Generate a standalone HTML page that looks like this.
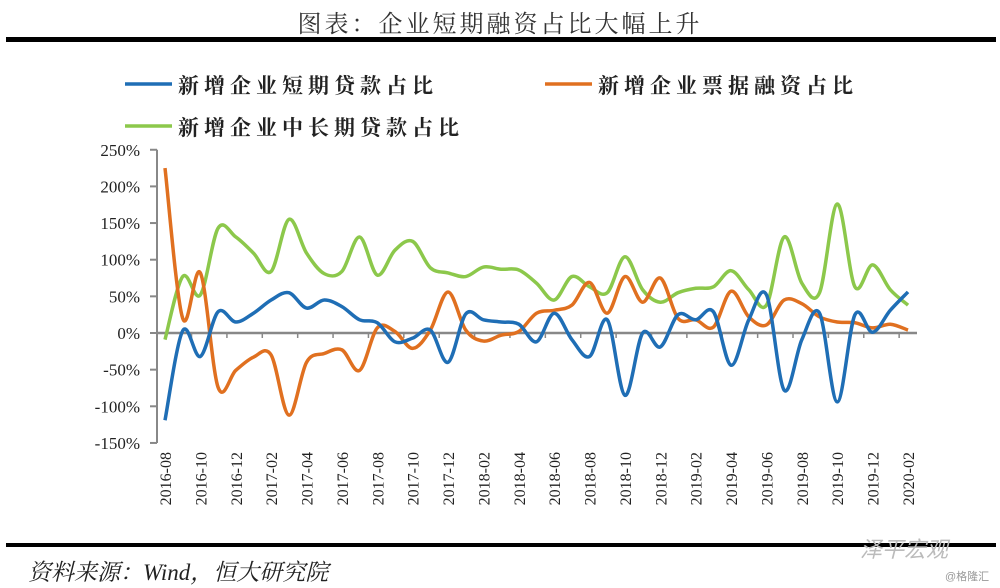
<!DOCTYPE html>
<html><head><meta charset="utf-8">
<style>
body{margin:0;background:#fff;width:1000px;height:588px;overflow:hidden;position:relative;font-family:"Liberation Serif","Noto Serif CJK SC",serif}
.title{position:absolute;top:4px;left:0;width:1000px;text-align:center;font-size:24px;color:#333;letter-spacing:3px;font-family:"Liberation Serif","Noto Serif CJK SC",serif}
.rule{position:absolute;left:6px;width:990px;background:#000}
.leg{position:absolute;font-size:21px;font-weight:bold;letter-spacing:5px;color:#222;font-family:"Liberation Serif","Noto Serif CJK SC",serif}
.src{position:absolute;left:28px;top:554px;font-size:23px;font-style:italic;color:#222;font-family:"Liberation Serif","Noto Serif CJK SC",serif}
</style></head><body>
<div class="title">图表：企业短期融资占比大幅上升</div>
<div class="rule" style="top:37px;height:5px"></div>
<svg id="chart" width="1000" height="588" style="position:absolute;left:0;top:0"></svg>
<div class="leg" style="left:178px;top:70px">新增企业短期贷款占比</div>
<div class="leg" style="left:598px;top:70px">新增企业票据融资占比</div>
<div class="leg" style="left:178px;top:112px">新增企业中长期贷款占比</div>
<div class="rule" style="top:543px;height:4px"></div>
<div class="src">资料来源：Wind，恒大研究院</div>
<div style="position:absolute;left:860px;top:532px;font-size:22px;color:#bbb;font-style:italic;font-family:'Liberation Sans','Noto Sans CJK SC',sans-serif">泽平宏观</div>
<div style="position:absolute;left:945px;top:568px;font-size:11px;color:#999;font-family:'Liberation Sans','Noto Sans CJK SC',sans-serif">@格隆汇</div>
<script>
const months=[];
for(let y=2016,m=8;!(y===2020&&m===3);){months.push(y+'-'+String(m).padStart(2,'0'));m++;if(m>12){m=1;y++;}}
const shortTerm=[-119,3,-32,29,15,27,45,55,34,45,36,18,14,-12,-7,4,-40,26,18,15,12,-12,27,-9,-32,18,-85,0,-19,25,18,29,-44,18,52,-78,-9,27,-94,25,1,31,56];
const bill=[225,20,82,-74,-51,-33,-30,-112,-40,-28,-23,-51,7,2,-21,4,56,4,-11,-3,2,27,31,38,69,27,77,42,75,20,18,8,57,22,11,45,40,22,15,14,7,12,4];
const longTerm=[-9,77,52,143,131,109,84,155,109,81,84,131,79,113,125,89,82,77,90,87,86,68,45,77,63,55,104,59,42,55,61,63,85,59,38,131,68,55,176,63,93,59,38];
const yTicks=[250,200,150,100,50,0,-50,-100,-150];
const X0=165,X1=908,Y0=333,PX=0.733;
const xs=i=>X0+(X1-X0)*i/(months.length-1);
const ys=v=>Y0-v*PX;
const svg=document.getElementById('chart');const NS='http://www.w3.org/2000/svg';
function mk(t,a){const e=document.createElementNS(NS,t);for(const k in a)e.setAttribute(k,a[k]);svg.appendChild(e);return e;}
let ax=mk('line',{x1:157,y1:ys(250),x2:157,y2:ys(-150),stroke:'#888','stroke-width':2});


yTicks.forEach(v=>{
 const t=mk('line',{x1:150,y1:ys(v),x2:157,y2:ys(v),stroke:'#888','stroke-width':2});
 
 
 const l=mk('text',{x:140,y:ys(v)+6,'text-anchor':'end','font-size':17,fill:'#222','font-family':'Liberation Serif,serif'});
 l.textContent=v+'%';
 
 
});
let xa=mk('line',{x1:157,y1:Y0,x2:917,y2:Y0,stroke:'#888','stroke-width':2.5});


const step=(X1-X0)/(months.length-1);
for(let i=0;i<months.length;i++){
 if(i%2===1){const t=mk('line',{x1:xs(i)+step/2,y1:Y0,x2:xs(i)+step/2,y2:Y0+5,stroke:'#888','stroke-width':1.5});
 
 }
 if(i%2===0){const l=mk('text',{x:0,y:0,'text-anchor':'end','font-size':16,fill:'#222','font-family':'Liberation Serif,serif',transform:`translate(${xs(i)+6},452) rotate(-90)`});
 l.textContent=months[i];
 
 }
}
function path(vals){
 const p=vals.map((v,i)=>[xs(i),ys(v)]);let d=`M${p[0][0]},${p[0][1]}`;
 for(let i=0;i<p.length-1;i++){const a=p[i-1]||p[i],b=p[i],c=p[i+1],e=p[i+2]||c;
 d+=` C${b[0]+(c[0]-a[0])/6},${b[1]+(c[1]-a[1])/6} ${c[0]-(e[0]-b[0])/6},${c[1]-(e[1]-b[1])/6} ${c[0]},${c[1]}`;}
 return d;}
[[longTerm,'#8cc84b','series-long-term'],[bill,'#e07020','series-bill'],[shortTerm,'#1f6eb5','series-short-term']].forEach(([v,c,n])=>{
 const e=mk('path',{d:path(v),fill:'none',stroke:c,'stroke-width':3.5,'stroke-linejoin':'round'});
 
 
});
[[125,84,'#1f6eb5','legend-swatch-short'],[545,84,'#e07020','legend-swatch-bill'],[125,126,'#8cc84b','legend-swatch-long']].forEach(([x,y,c,n])=>{
 const e=mk('line',{x1:x,y1:y,x2:x+47,y2:y,stroke:c,'stroke-width':3.5});
 
 
});
</script>
</body></html>
